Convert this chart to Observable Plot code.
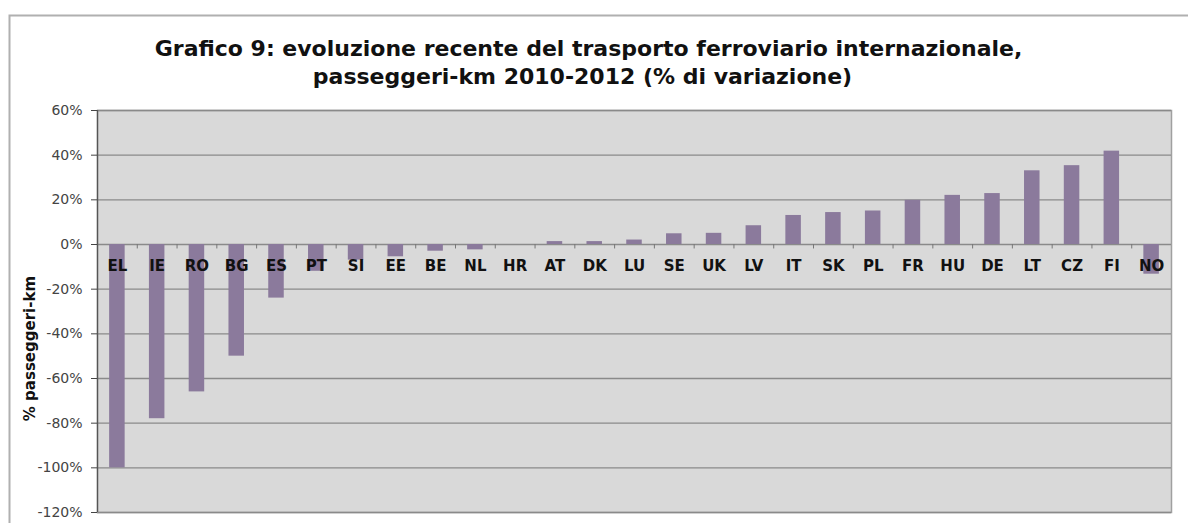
<!DOCTYPE html>
<html>
<head>
<meta charset="utf-8">
<script src="https://cdn.jsdelivr.net/npm/d3@7"></script>
<script src="https://cdn.jsdelivr.net/npm/@observablehq/plot@0.6"></script>
<style>
  html, body { margin: 0; padding: 0; background: #fff; }
  #chart svg { display: block; }
</style>
</head>
<body>
<div id="chart"></div>
<script>
const titleLines = [
  "Grafico 9: evoluzione recente del trasporto ferroviario internazionale,",
  "passeggeri-km 2010-2012 (% di variazione)"
];
const yLabel = "% passeggeri-km";
const categories = ["EL","IE","RO","BG","ES","PT","SI","EE","BE","NL","HR","AT","DK","LU","SE","UK","LV","IT","SK","PL","FR","HU","DE","LT","CZ","FI","NO"];
const values = [-100,-78,-66,-50,-24,-12,-7,-5.5,-3,-2.4,0,1.3,1.3,2,4.8,5,8.4,13,14.3,15,19.8,22,22.8,33,35.3,41.8,-13.3];
const yTicks = [60,40,20,0,-20,-40,-60,-80,-100,-120];

const data = categories.map((c, i) => ({country: c, value: values[i]}));

const W = 1188, H = 523;
const mL = 97, mR = 17, mT = 110, mB = 11;
const step = (W - mL - mR) / categories.length;
const barW = 15.5;
const inset = (step - barW) / 2;

const chart = Plot.plot({
  width: W,
  height: H,
  marginLeft: mL,
  marginRight: mR,
  marginTop: mT,
  marginBottom: mB,
  style: {fontFamily: "DejaVu Sans, Verdana, sans-serif", background: "#fff", overflow: "visible"},
  x: {domain: categories, padding: 0, round: false, axis: null},
  y: {domain: [-120, 60], axis: null},
  marks: [
    Plot.frame({fill: "#d9d9d9", stroke: "#a0a0a0", strokeWidth: 1.5}),
    Plot.ruleY(yTicks, {stroke: "#8a8a8a", strokeWidth: 1.3}),
    Plot.barY(data, {x: "country", y: "value", fill: "#8b7a9c", insetLeft: inset, insetRight: inset}),
    Plot.ruleX(categories.slice(1), {x: d => d, y1: 0, y2: -2, dx: -step / 2, stroke: "#777", strokeWidth: 1}),
    Plot.text(data, {x: "country", y: 0, text: "country", dy: 22, fontWeight: "bold", fontSize: 15, fill: "#111"}),
    // y axis line, ticks and labels
    Plot.ruleX([categories[0]], {x: d => d, dx: -step / 2, y1: -120, y2: 60, stroke: "#555", strokeWidth: 1.3}),
    Plot.axisY({ticks: yTicks, tickFormat: d => d + "%", tickSize: 6, tickPadding: 9, fontSize: 14, color: "#444", label: null}),
    // y label
    Plot.text([{label: yLabel, pos: -46.6}], {y: "pos", text: "label", frameAnchor: "left", textAnchor: "middle", dx: -67, rotate: -90, fontWeight: "bold", fontSize: 15, fill: "#111"}),
    // title
    Plot.text([titleLines[0]], {frameAnchor: "top-left", dx: 588 - mL, dy: 48 - mT, textAnchor: "middle", lineAnchor: "middle", fontWeight: "bold", fontSize: 22, fill: "#111"}),
    Plot.text([titleLines[1]], {frameAnchor: "top-left", dx: 582 - mL, dy: 76 - mT, textAnchor: "middle", lineAnchor: "middle", fontWeight: "bold", fontSize: 22, fill: "#111"})
  ]
});

d3.select(chart).insert("rect", ":first-child")
  .attr("x", 9.5).attr("y", 15.5).attr("width", W + 20).attr("height", H + 20)
  .attr("fill", "none").attr("stroke", "#b0b0b0").attr("stroke-width", 2);

document.getElementById("chart").appendChild(chart);
</script>
</body>
</html>
